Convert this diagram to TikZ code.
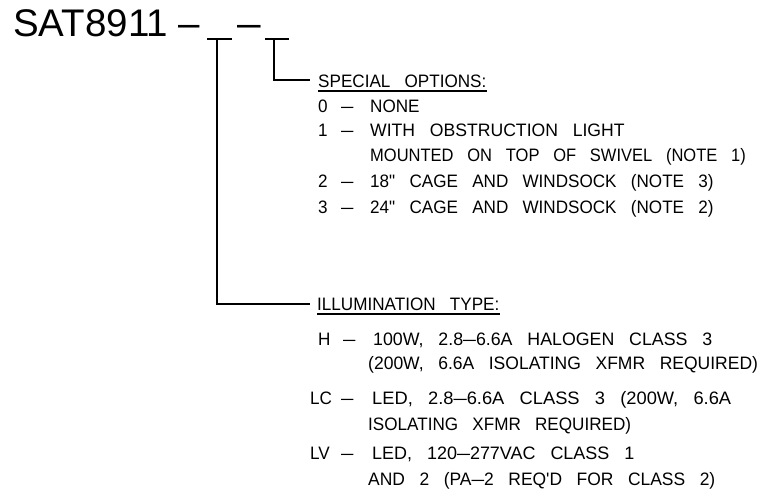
\documentclass[tikz,border=0pt]{standalone}
\usepackage{fontspec}
\usepackage{graphicx}
\setmainfont{Liberation Sans}
\newfontfamily\cad[FakeStretch=0.95,WordSpace=3]{Liberation Sans}
\newcommand\dsh{\scalebox{1.3}[1]{\textendash}}
\newcommand\sx[2]{\scalebox{#1}[1]{#2}}
\begin{document}
\begin{tikzpicture}[x=1pt,y=-1pt,
  txt/.style={anchor=base west, inner sep=0pt, font=\cad\fontsize{18}{20}\selectfont},
  big/.style={anchor=base west, inner sep=0pt, font=\fontsize{38.5}{42}\selectfont},
  ln/.style={line width=1.4pt},
  blank/.style={line width=2.4pt},
  uline/.style={line width=1.1pt}]
\useasboundingbox (0,0) rectangle (773,493);
% part number
\node[big] (sat) at (13,36.5) {SAT8911};
\node[big] (d1) at (178,36.5) {\textendash};
\node[big] (d2) at (237,36.5) {\scalebox{1.1}[1]{\textendash}};
\coordinate (b1l) at (207,39); \coordinate (b1r) at (232,39);
\coordinate (b2l) at (265,39); \coordinate (b2r) at (289,39);
\draw[blank] (b1l) -- (b1r);
\draw[blank] (b2l) -- (b2r);
\coordinate (b1) at (217,39);
\coordinate (b2) at (274,39);
% special options
\node[txt] (sp) at (318,87) {SPECIAL OPTIONS:};
\draw[uline] ([yshift=-4pt]sp.base west) -- ([yshift=-4pt]sp.base east);
\coordinate (spl) at (310,80);
\draw[ln] (b2) |- (spl);
\node[txt] (n0) at (318,112) {0};
\node[txt] (m0) at (341,112) {\dsh};
\node[txt] (t0) at (370,112) {NONE};
\node[txt] (n1) at (318,136) {1};
\node[txt] (m1) at (341,136) {\dsh};
\node[txt] (t1) at (370,136) {\sx{1.03}{WITH OBSTRUCTION LIGHT}};
\node[txt] (t1b) at (370,161) {\sx{0.965}{MOUNTED ON TOP OF SWIVEL (NOTE 1)}};
\node[txt] (n2) at (318,187) {2};
\node[txt] (m2) at (341,187) {\dsh};
\node[txt] (t2) at (370,187) {18" CAGE AND WINDSOCK (NOTE 3)};
\node[txt] (n3) at (318,213) {3};
\node[txt] (m3) at (341,213) {\dsh};
\node[txt] (t3) at (370,213) {24" CAGE AND WINDSOCK (NOTE 2)};
% illumination type
\node[txt] (il) at (317,310) {ILLUMINATION TYPE:};
\draw[uline] ([yshift=-4pt]il.base west) -- ([yshift=-4pt]il.base east);
\coordinate (ill) at (310,304);
\draw[ln] (b1) |- (ill);
\node[txt] (nh) at (318,345) {H};
\node[txt] (mh) at (343,345) {\dsh};
\node[txt] (th) at (373,345) {\sx{1.04}{100W, 2.8\dsh6.6A HALOGEN CLASS 3}};
\node[txt] (thb) at (368,369) {\sx{1.024}{(200W, 6.6A ISOLATING XFMR REQUIRED)}};
\node[txt] (nc) at (310,404) {LC};
\node[txt] (mc) at (341,404) {\dsh};
\node[txt] (tc) at (372,404) {\sx{1.07}{LED, 2.8\dsh6.6A CLASS 3 (200W, 6.6A}};
\node[txt] (tcb) at (368,430) {ISOLATING XFMR REQUIRED)};
\node[txt] (nv) at (310,459) {LV};
\node[txt] (mv) at (341,459) {\dsh};
\node[txt] (tv) at (372,459) {\sx{1.05}{LED, 120\dsh277VAC CLASS 1}};
\node[txt] (tvb) at (368,485) {\sx{1.02}{AND 2 (PA\dsh2 REQ'D FOR CLASS 2)}};
\end{tikzpicture}
\end{document}
